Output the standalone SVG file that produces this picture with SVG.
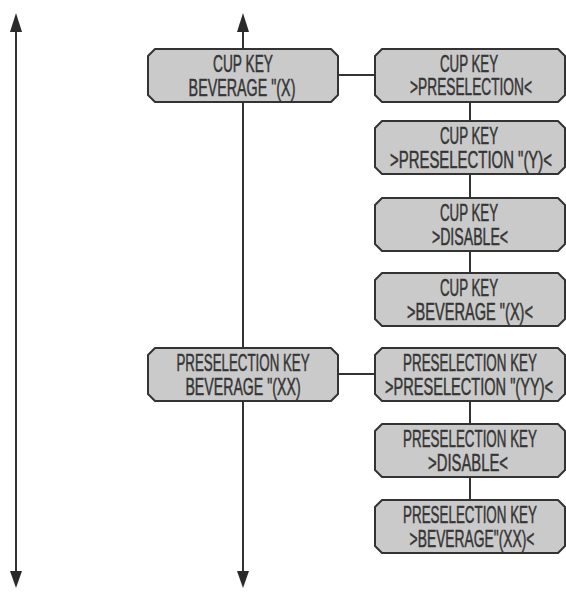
<svg xmlns="http://www.w3.org/2000/svg" width="566" height="593" viewBox="0 0 566 593">
  <style>
    .box { fill: #cacaca; stroke: #333; stroke-width: 2; stroke-linejoin: round; }
    .line { stroke: #333; stroke-width: 2; fill: none; }
    .head { fill: #2a2a2a; }
    text { font-family: "Liberation Sans", "DejaVu Sans", sans-serif; font-size: 23px; fill: #353535; stroke: #353535; stroke-width: 0.5; text-anchor: middle; }
  </style>
  <defs>
    <!-- chamfered panel, 190 x 53 -->
    <path id="panel" d="M7,0 H183 L190,7 V46 L183,53 H7 L0,46 V7 Z"/>
  </defs>

  <!-- connectors -->
  <g id="connectors">
    <line class="line" x1="16" y1="20" x2="16" y2="578"/>
    <path class="head" d="M16,13 L22,32 H10 Z"/>
    <path class="head" d="M16,588 L22,571 H10 Z"/>

    <line class="line" x1="243" y1="20" x2="243" y2="578"/>
    <path class="head" d="M243,13 L249,32 H237 Z"/>
    <path class="head" d="M243,588 L249,571 H237 Z"/>

    <line class="line" x1="337" y1="75" x2="375" y2="75"/>
    <line class="line" x1="470" y1="102" x2="470" y2="273"/>

    <line class="line" x1="338" y1="374" x2="375" y2="374"/>
    <line class="line" x1="470" y1="402" x2="470" y2="500"/>
  </g>

  <!-- labels are narrowed horizontally to a condensed display face -->
  <g id="cup-key-beverage" transform="translate(148,49)">
    <use href="#panel" class="box"/>
    <text transform="translate(95,23) scale(0.6,1)" textLength="100" lengthAdjust="spacingAndGlyphs">CUP KEY</text>
    <text transform="translate(94,47) scale(0.6,1)" textLength="178" lengthAdjust="spacingAndGlyphs">BEVERAGE "(X)</text>
  </g>

  <g id="cup-key-preselection" transform="translate(375,49)">
    <use href="#panel" class="box"/>
    <text transform="translate(94,23) scale(0.6,1)" textLength="97" lengthAdjust="spacingAndGlyphs">CUP KEY</text>
    <text transform="translate(96,46) scale(0.6,1)" textLength="203" lengthAdjust="spacingAndGlyphs">&gt;PRESELECTION&lt;</text>
  </g>

  <g id="cup-key-preselection-y" transform="translate(375,121)">
    <use href="#panel" class="box"/>
    <text transform="translate(94,23) scale(0.6,1)" textLength="97" lengthAdjust="spacingAndGlyphs">CUP KEY</text>
    <text transform="translate(96,47) scale(0.6,1)" textLength="270" lengthAdjust="spacingAndGlyphs">&gt;PRESELECTION "(Y)&lt;</text>
  </g>

  <g id="cup-key-disable" transform="translate(375,198)">
    <use href="#panel" class="box"/>
    <text transform="translate(94,23) scale(0.6,1)" textLength="97" lengthAdjust="spacingAndGlyphs">CUP KEY</text>
    <text transform="translate(95,47) scale(0.6,1)" textLength="127" lengthAdjust="spacingAndGlyphs">&gt;DISABLE&lt;</text>
  </g>

  <g id="cup-key-beverage-x" transform="translate(375,273)">
    <use href="#panel" class="box"/>
    <text transform="translate(94,23) scale(0.6,1)" textLength="97" lengthAdjust="spacingAndGlyphs">CUP KEY</text>
    <text transform="translate(95,47) scale(0.6,1)" textLength="210" lengthAdjust="spacingAndGlyphs">&gt;BEVERAGE "(X)&lt;</text>
  </g>

  <g id="preselection-key-beverage" transform="translate(148,348)">
    <use href="#panel" class="box"/>
    <text transform="translate(95,23) scale(0.6,1)" textLength="222" lengthAdjust="spacingAndGlyphs">PRESELECTION KEY</text>
    <text transform="translate(95,47) scale(0.6,1)" textLength="192" lengthAdjust="spacingAndGlyphs">BEVERAGE "(XX)</text>
  </g>

  <g id="preselection-key-preselection-yy" transform="translate(375,348)">
    <use href="#panel" class="box"/>
    <text transform="translate(95,23) scale(0.6,1)" textLength="223" lengthAdjust="spacingAndGlyphs">PRESELECTION KEY</text>
    <text transform="translate(94,47) scale(0.6,1)" textLength="280" lengthAdjust="spacingAndGlyphs">&gt;PRESELECTION "(YY)&lt;</text>
  </g>

  <g id="preselection-key-disable" transform="translate(375,424)">
    <use href="#panel" class="box"/>
    <text transform="translate(95,23) scale(0.6,1)" textLength="223" lengthAdjust="spacingAndGlyphs">PRESELECTION KEY</text>
    <text transform="translate(93,47) scale(0.6,1)" textLength="133" lengthAdjust="spacingAndGlyphs">&gt;DISABLE&lt;</text>
  </g>

  <g id="preselection-key-beverage-xx" transform="translate(375,500)">
    <use href="#panel" class="box"/>
    <text transform="translate(95,23) scale(0.6,1)" textLength="223" lengthAdjust="spacingAndGlyphs">PRESELECTION KEY</text>
    <text transform="translate(97,47) scale(0.6,1)" textLength="208" lengthAdjust="spacingAndGlyphs">&gt;BEVERAGE"(XX)&lt;</text>
  </g>
</svg>
